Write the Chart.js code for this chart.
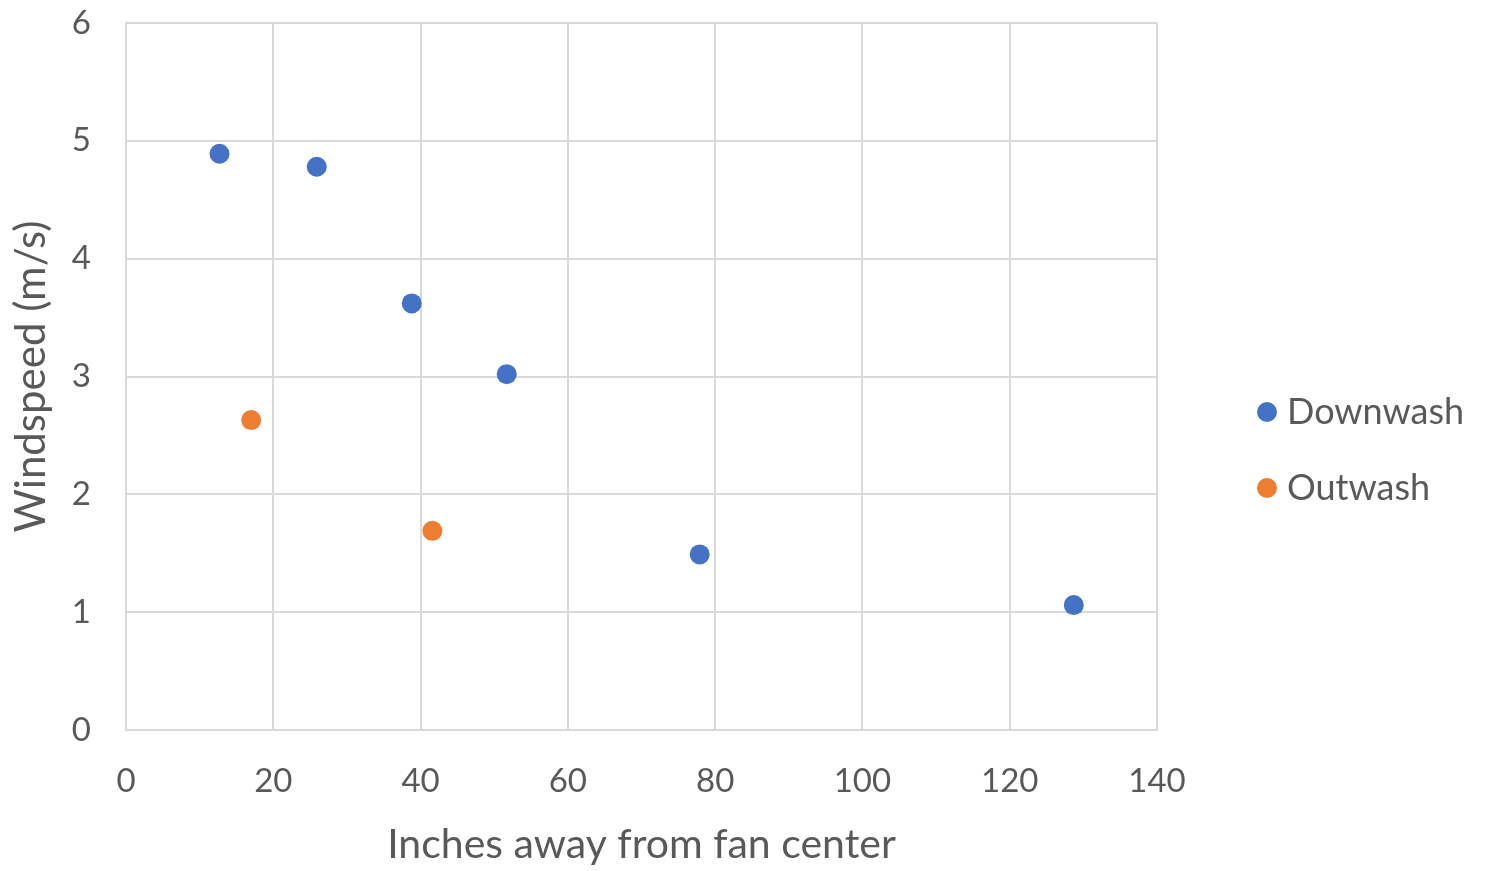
<!DOCTYPE html>
<html>
<head>
<meta charset="utf-8">
<script src="https://cdn.jsdelivr.net/npm/chart.js@4/dist/chart.umd.min.js"></script>
<style>
  html, body { margin: 0; padding: 0; background: #ffffff; }
  #wrap { width: 1486px; height: 871px; }
</style>
</head>
<body>
<div id="wrap"><canvas id="c" width="1486" height="871"></canvas></div>
<script>
// Windspeed measurements by distance from the fan center
const downwashX = [12.7, 25.9, 38.8, 51.7, 77.9, 128.7];
const downwashY = [4.89, 4.78, 3.62, 3.02, 1.49, 1.06];
const outwashX = [17.0, 41.6];
const outwashY = [2.63, 1.69];
const seriesNames = ['Downwash', 'Outwash'];
const seriesColors = ['#4472C4', '#ED7D31'];
const xTicks = [0, 20, 40, 60, 80, 100, 120, 140];
const yTicks = [0, 1, 2, 3, 4, 5, 6];

const FONT = 'Lato, "Open Sans", sans-serif';
const TEXT = '#595959';
const GRID = '#d9d9d9';

const toPoints = (xs, ys) => xs.map((x, i) => ({ x: x, y: ys[i] }));

// Legend drawn to the right of the plot area
const sideLegend = {
  id: 'sideLegend',
  afterDraw(chart) {
    const ctx = chart.ctx;
    const x0 = 1267, y0 = 412, step = 76;
    ctx.save();
    ctx.font = '36px ' + FONT;
    ctx.textBaseline = 'middle';
    chart.data.datasets.forEach((ds, i) => {
      const y = y0 + i * step;
      ctx.fillStyle = ds.backgroundColor;
      ctx.beginPath();
      ctx.arc(x0, y, 10, 0, Math.PI * 2);
      ctx.fill();
      ctx.fillStyle = TEXT;
      ctx.textAlign = 'left';
      ctx.fillText(ds.label, x0 + 20, y);
    });
    ctx.restore();
  }
};

new Chart(document.getElementById('c'), {
  type: 'scatter',
  data: {
    datasets: [
      { label: seriesNames[0], data: toPoints(downwashX, downwashY),
        backgroundColor: seriesColors[0], borderColor: seriesColors[0],
        pointRadius: 10, pointHoverRadius: 10, borderWidth: 0 },
      { label: seriesNames[1], data: toPoints(outwashX, outwashY),
        backgroundColor: seriesColors[1], borderColor: seriesColors[1],
        pointRadius: 10, pointHoverRadius: 10, borderWidth: 0 }
    ]
  },
  options: {
    responsive: false,
    animation: false,
    devicePixelRatio: 1,
    layout: { padding: { left: 0, top: 23, right: 329, bottom: 0 } },
    plugins: {
      legend: { display: false },
      tooltip: { enabled: false }
    },
    scales: {
      x: {
        type: 'linear',
        min: 0, max: 140,
        afterBuildTicks: s => { s.ticks = xTicks.map(v => ({ value: v })); },
        afterFit: s => { s.height = 141; s.paddingLeft = 0; s.paddingRight = 0; },
        grid: { color: GRID, lineWidth: 2, drawTicks: false },
        border: { color: GRID, width: 2 },
        ticks: { color: TEXT, font: { family: FONT, size: 33 }, padding: 32, maxRotation: 0 },
        title: { display: true, text: 'Inches away from fan center', color: TEXT,
                 font: { family: FONT, size: 41 }, padding: { top: 0, bottom: 2 } }
      },
      y: {
        type: 'linear',
        min: 0, max: 6,
        afterBuildTicks: s => { s.ticks = yTicks.map(v => ({ value: v })); },
        afterFit: s => { s.width = 126; s.paddingTop = 0; s.paddingBottom = 0; },
        grid: { color: GRID, lineWidth: 2, drawTicks: false },
        border: { color: GRID, width: 2 },
        ticks: { color: TEXT, font: { family: FONT, size: 33 }, padding: 35 },
        title: { display: true, text: 'Windspeed (m/s)', color: TEXT,
                 font: { family: FONT, size: 42 }, padding: { top: 6, bottom: 0 } }
      }
    }
  },
  plugins: [sideLegend]
});
</script>
</body>
</html>
